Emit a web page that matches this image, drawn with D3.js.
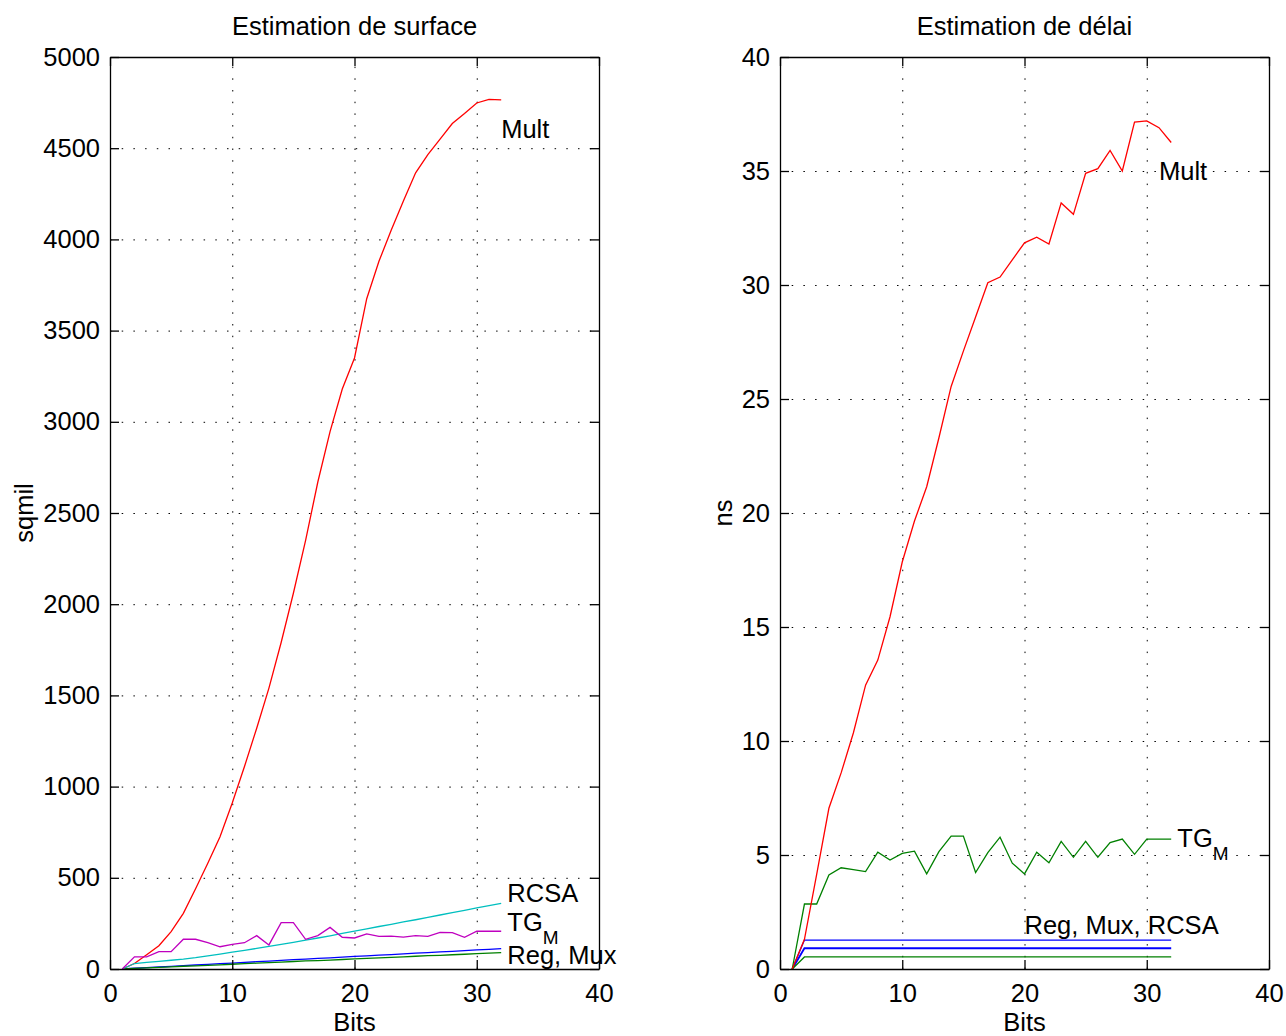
<!DOCTYPE html>
<html>
<head>
<meta charset="utf-8">
<script src="https://cdn.jsdelivr.net/npm/d3@7"></script>
<style>
  body { margin: 0; background: #fff; }
  svg text { font-family: "Liberation Sans", Arial, Helvetica, sans-serif; fill: #000; }
  .line { fill: none; stroke-width: 1.3px; }
  .grid line { stroke: #000; stroke-width: 1px; stroke-dasharray: 1.5,10.2; }
  .grid .domain { display: none; }
  .axis path, .axis line { stroke: #000; stroke-width: 1.3px; }
</style>
</head>
<body>
<div id="chart"></div>
<script>
// x values (bit width)
var bits = [1, 2, 3, 4, 5, 6, 7, 8, 9, 10, 11, 12, 13, 14, 15, 16,
            17, 18, 19, 20, 21, 22, 23, 24, 25, 26, 27, 28, 29, 30, 31, 32];

// surface estimate (sqmil)
var areaMult = [0, 30, 78, 128, 205, 305, 440, 580, 725, 910, 1110, 1320, 1540, 1790, 2060, 2350,
                2670, 2946, 3180, 3350, 3675, 3880, 4050, 4210, 4365, 4465, 4550, 4635, 4690, 4748, 4768, 4765];
var areaRcsa = [0, 30, 36, 42, 48, 54, 62, 72, 82, 92, 102, 113, 124, 135, 146, 158,
                170, 182, 195, 208, 220, 233, 245, 258, 270, 283, 296, 309, 322, 335, 348, 360];
var areaTgm  = [0, 67, 67, 95, 95, 163, 163, 144, 122, 135, 144, 183, 132, 254, 254, 163,
                183, 228, 174, 170, 192, 179, 180, 175, 183, 179, 201, 199, 174, 207, 207, 207];
var areaReg  = [0, 4, 7, 11, 14, 18, 22, 25, 29, 32, 36, 40, 43, 47, 51, 54,
                58, 61, 65, 69, 72, 76, 79, 83, 87, 90, 94, 97, 101, 105, 108, 112];
var areaMux  = [0, 3, 6, 9, 12, 15, 17, 20, 23, 26, 29, 32, 35, 38, 41, 44,
                46, 49, 52, 55, 58, 61, 64, 67, 70, 73, 75, 78, 81, 84, 87, 90];

// delay estimate (ns)
var delayMult = [0, 1.3, 4.15, 7.05, 8.6, 10.35, 12.45, 13.55, 15.45, 17.85, 19.65, 21.15, 23.3, 25.55, 27.1, 28.6,
                 30.1, 30.35, 31.1, 31.85, 32.1, 31.8, 33.6, 33.1, 34.9, 35.1, 35.9, 35.0, 37.15, 37.2, 36.9, 36.25];
var delayTgm  = [0, 2.85, 2.85, 4.12, 4.44, 4.36, 4.27, 5.12, 4.78, 5.07, 5.17, 4.17, 5.15, 5.83, 5.83, 4.23,
                 5.10, 5.78, 4.64, 4.17, 5.12, 4.66, 5.6, 4.9, 5.6, 4.9, 5.54, 5.7, 5.03, 5.7, 5.7, 5.7];
var delayReg  = [0, 1.27, 1.27, 1.27, 1.27, 1.27, 1.27, 1.27, 1.27, 1.27, 1.27, 1.27, 1.27, 1.27, 1.27, 1.27,
                 1.27, 1.27, 1.27, 1.27, 1.27, 1.27, 1.27, 1.27, 1.27, 1.27, 1.27, 1.27, 1.27, 1.27, 1.27, 1.27];
var delayRcsa = [0, 0.91, 0.91, 0.91, 0.91, 0.91, 0.91, 0.91, 0.91, 0.91, 0.91, 0.91, 0.91, 0.91, 0.91, 0.91,
                 0.91, 0.91, 0.91, 0.91, 0.91, 0.91, 0.91, 0.91, 0.91, 0.91, 0.91, 0.91, 0.91, 0.91, 0.91, 0.91];
var delayMux  = [0, 0.53, 0.53, 0.53, 0.53, 0.53, 0.53, 0.53, 0.53, 0.53, 0.53, 0.53, 0.53, 0.53, 0.53, 0.53,
                 0.53, 0.53, 0.53, 0.53, 0.53, 0.53, 0.53, 0.53, 0.53, 0.53, 0.53, 0.53, 0.53, 0.53, 0.53, 0.53];

// tick values
var xTicks = [0, 10, 20, 30, 40];
var areaTicks = [0, 500, 1000, 1500, 2000, 2500, 3000, 3500, 4000, 4500, 5000];
var delayTicks = [0, 5, 10, 15, 20, 25, 30, 35, 40];

var W = 1286, H = 1036;
var plotTop = 57, plotBottom = 969, plotW = 489;
var fontSize = 25.5;

var svg = d3.select("#chart").append("svg")
    .attr("width", W)
    .attr("height", H);

function drawPanel(p) {
  var x = d3.scaleLinear().domain([0, 40]).range([p.left, p.left + plotW]);
  var y = d3.scaleLinear().domain([0, p.yMax]).range([plotBottom, plotTop]);
  var g = svg.append("g");

  // dotted grid
  g.append("g")
      .attr("class", "grid")
      .attr("transform", "translate(0," + plotBottom + ")")
      .call(d3.axisBottom(x).tickValues(xTicks).tickSize(-(plotBottom - plotTop)).tickFormat(""));
  g.append("g")
      .attr("class", "grid")
      .attr("transform", "translate(" + p.left + ",0)")
      .call(d3.axisLeft(y).tickValues(p.yTicks).tickSize(-plotW).tickFormat(""));

  // the series
  p.series.forEach(function(s) {
    g.append("path")
        .datum(s.values)
        .attr("class", "line")
        .attr("stroke", s.color)
        .style("stroke-width", s.width || null)
        .attr("d", d3.line()
            .x(function(d, i) { return x(bits[i]); })
            .y(function(d) { return y(d); }));
  });

  // axes, ticks pointing inside like matlab
  g.append("g").attr("class", "axis")
      .attr("transform", "translate(0," + plotBottom + ")")
      .call(d3.axisBottom(x).tickValues(xTicks).tickSizeInner(-9).tickSizeOuter(0)
          .tickPadding(15).tickFormat(d3.format("d")));
  g.append("g").attr("class", "axis")
      .attr("transform", "translate(0," + plotTop + ")")
      .call(d3.axisTop(x).tickValues(xTicks).tickSizeInner(-9).tickSizeOuter(0).tickFormat(""));
  g.append("g").attr("class", "axis")
      .attr("transform", "translate(" + p.left + ",0)")
      .call(d3.axisLeft(y).tickValues(p.yTicks).tickSizeInner(-9).tickSizeOuter(0)
          .tickPadding(10).tickFormat(d3.format("d")));
  g.append("g").attr("class", "axis")
      .attr("transform", "translate(" + (p.left + plotW) + ",0)")
      .call(d3.axisRight(y).tickValues(p.yTicks).tickSizeInner(-9).tickSizeOuter(0).tickFormat(""));
  g.selectAll(".axis").attr("font-size", fontSize).attr("font-family", null);

  // title and axis labels
  g.append("text")
      .attr("x", p.left + plotW / 2)
      .attr("y", 35)
      .attr("text-anchor", "middle")
      .attr("font-size", fontSize)
      .text(p.title);
  g.append("text")
      .attr("x", p.left + plotW / 2)
      .attr("y", 1031)
      .attr("text-anchor", "middle")
      .attr("font-size", fontSize)
      .text("Bits");
  g.append("text")
      .attr("transform", "translate(" + p.yLabelX + "," + ((plotTop + plotBottom) / 2) + ")rotate(-90)")
      .attr("text-anchor", "middle")
      .attr("font-size", fontSize)
      .text(p.yLabel);

  // curve labels
  p.labels.forEach(function(l) {
    var t = g.append("text")
        .attr("x", x(l.x))
        .attr("y", y(l.y))
        .attr("dy", "0.35em")
        .attr("font-size", fontSize)
        .text(l.text);
    if (l.sub) {
      t.append("tspan")
          .attr("dy", 13)
          .attr("font-size", 19)
          .text(l.sub);
    }
  });
}

drawPanel({
  left: 110,
  yMax: 5000,
  yTicks: areaTicks,
  title: "Estimation de surface",
  yLabel: "sqmil",
  yLabelX: 33,
  series: [
    {values: areaReg, color: "#0000ff"},
    {values: areaMux, color: "#008000"},
    {values: areaMult, color: "#ff0000"},
    {values: areaRcsa, color: "#00bfbf"},
    {values: areaTgm, color: "#bf00bf"}
  ],
  labels: [
    {x: 32, y: 4605, text: "Mult"},
    {x: 32.5, y: 415, text: "RCSA"},
    {x: 32.5, y: 258, text: "TG", sub: "M"},
    {x: 32.5, y: 75, text: "Reg, Mux"}
  ]
});

drawPanel({
  left: 780,
  yMax: 40,
  yTicks: delayTicks,
  title: "Estimation de délai",
  yLabel: "ns",
  yLabelX: 732,
  series: [
    {values: delayReg, color: "#0000ff"},
    {values: delayRcsa, color: "#0000ff", width: "1.8px"},
    {values: delayMux, color: "#008000"},
    {values: delayTgm, color: "#008000"},
    {values: delayMult, color: "#ff0000"}
  ],
  labels: [
    {x: 31, y: 35, text: "Mult"},
    {x: 32.5, y: 5.75, text: "TG", sub: "M"},
    {x: 20, y: 1.93, text: "Reg, Mux, RCSA"}
  ]
});
</script>
</body>
</html>
